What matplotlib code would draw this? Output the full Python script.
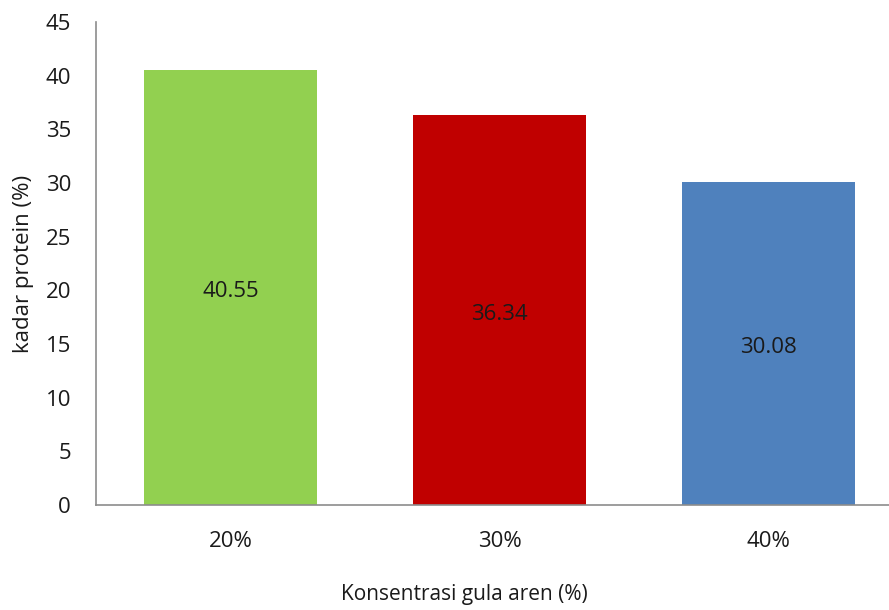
import numpy as np
import matplotlib
matplotlib.use("Agg")
import matplotlib.pyplot as plt

plt.rcParams['font.family'] = ['Open Sans', 'DejaVu Sans']

# data
categories = ["20%", "30%", "40%"]
protein = [40.55, 36.34, 30.08]
bar_colors = ["#92D050", "#C00000", "#4F81BD"]
yticks = np.arange(0, 50, 5)

fig = plt.figure(figsize=(8.89, 6.10), dpi=100)
# plot area runs a bit past the right edge, like the original
ax = fig.add_axes([96 / 889, 105 / 610, 807 / 889, 483 / 610])

x = np.arange(len(categories))
bars = ax.bar(x, protein, width=0.645, color=bar_colors)

for b, v in zip(bars, protein):
    ax.annotate(f"{v:.2f}", (b.get_x() + b.get_width() / 2, v / 2),
                xytext=(0, -3), textcoords="offset points",
                ha="center", va="center", fontsize=16, color="#1a1a1a")

ax.set_xlim(-0.5, 2.5)
ax.set_ylim(0, 45)
ax.set_yticks(yticks)
ax.set_xticks(x)
ax.set_xticklabels(categories)
ax.tick_params(axis="both", length=0, labelsize=16, labelcolor="#1a1a1a")
ax.tick_params(axis="y", pad=18)
ax.tick_params(axis="x", pad=19)

for s in ["top", "right"]:
    ax.spines[s].set_visible(False)
for s in ["left", "bottom"]:
    ax.spines[s].set_color("#8c8c8c")
    ax.spines[s].set_linewidth(1.2)

ax.set_ylabel("kadar protein (%)", fontsize=16, labelpad=8, color="#1a1a1a")
ax.set_xlabel("Konsentrasi gula aren (%)", fontsize=15, color="#1a1a1a")
# title sits left of the plot centre in the original
ax.xaxis.set_label_coords(0.4566, -0.163)

fig.savefig("out.png", dpi=100)
